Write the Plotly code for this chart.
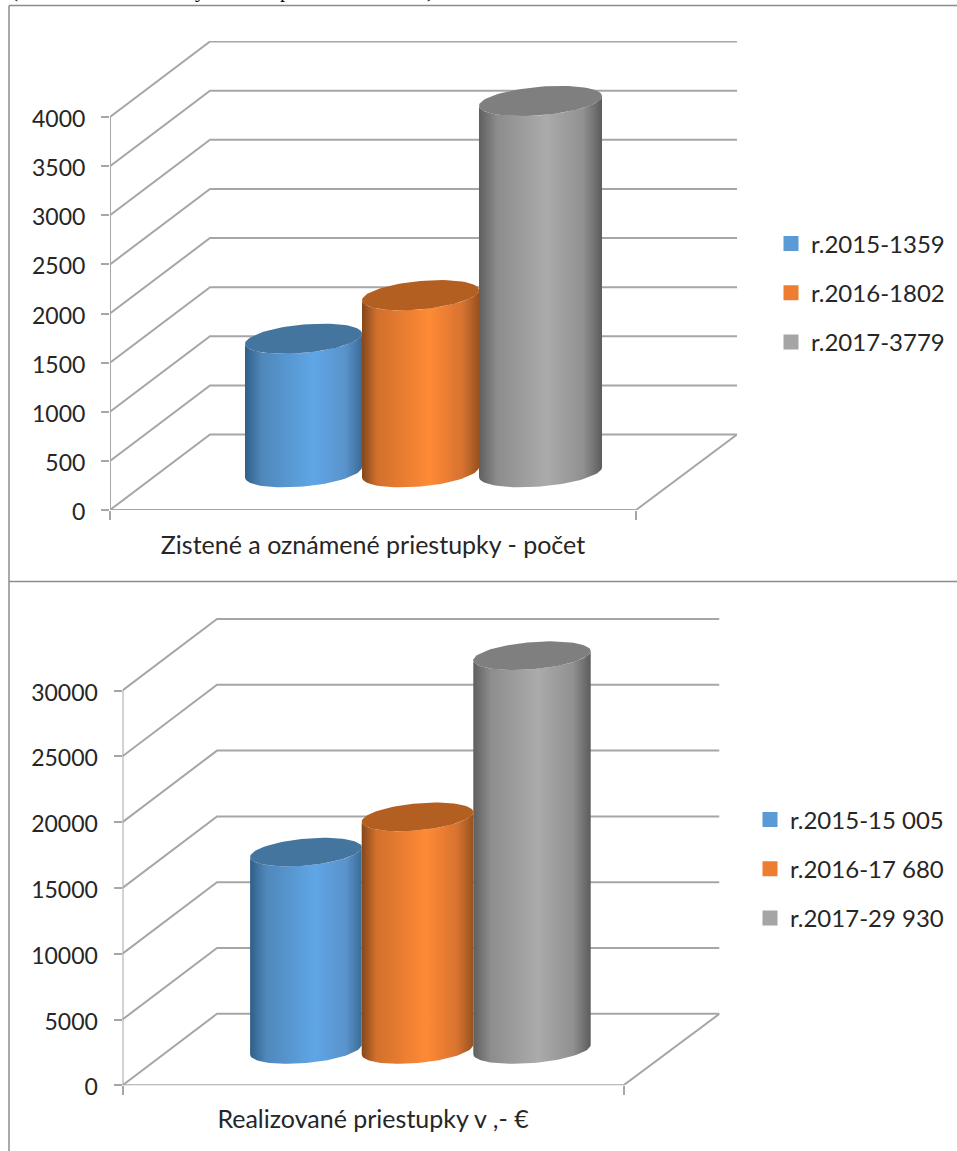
import math
import plotly.graph_objects as go

# ---- data ----
counts = [1359, 1802, 3779]
count_labels = ["r.2015-1359", "r.2016-1802", "r.2017-3779"]
count_ticks = [0, 500, 1000, 1500, 2000, 2500, 3000, 3500, 4000]
count_category = "Zistené a oznámené priestupky - počet"

fines = [15005, 17680, 29930]
fine_labels = ["r.2015-15 005", "r.2016-17 680", "r.2017-29 930"]
fine_ticks = [0, 5000, 10000, 15000, 20000, 25000, 30000]
fine_category = "Realizované priestupky v ,- €"

# ---- styling / layout constants ----
W, H = 957, 1151
GRID = "#a6a6a6"
TEXT = "#262626"
FONT = "Lato"
SWATCH = ["#5b9bd5", "#ed7d31", "#a5a5a5"]
CAP = ["#44759f", "#b45f22", "#7f7f7f"]
BODY = [
    [[0, "#2f5f88"], [0.14, "#4f87ba"], [0.58, "#5fa6e6"], [0.86, "#5a93cb"], [1, "#3a6b96"]],
    [[0, "#84471c"], [0.13, "#d2702c"], [0.58, "#ff8a35"], [0.86, "#d77230"], [1, "#96521f"]],
    [[0, "#5f5f5f"], [0.15, "#8d8d8d"], [0.55, "#ababab"], [0.85, "#909090"], [1, "#5c5c5c"]],
]


def cylinder(cx, half, v, x0, xw, dx, dep_v, dr=0.2, n=40):
    """Outline of a bar: oblique projection of a circle standing mid-depth."""
    rx = dr * dx
    w = math.sqrt(half ** 2 - rx ** 2)
    t0 = math.atan2(rx, w)

    def pt(t, val):
        px = cx + w * math.cos(t) + rx * math.sin(t)
        return (px - x0) / xw, val + dep_v * (0.5 + dr * math.sin(t))

    lower = [t0 - math.pi * i / n for i in range(n + 1)]  # right extreme -> left extreme, front side
    base = [pt(t, 0) for t in reversed(lower)]
    top_front = [pt(t, v) for t in lower]
    body = base + top_front
    cap = [pt(t0 + 2 * math.pi * i / (2 * n), v) for i in range(2 * n + 1)]
    return body, cap


def add_chart(fig, n, values, labels, ticks, category, g):
    xa, ya = ("x", "y") if n == 1 else (f"x{n}", f"y{n}")
    xw = g["x1"] - g["x0"]
    ppu = (g["y0"] - g["ytop_tick"]) / ticks[-1]
    dep_v = g["dy"] / ppu
    dep_x = g["dx"] / xw
    right = (g["xend"] - g["x0"]) / xw
    line = dict(color=GRID, width=2)
    common = dict(xaxis=xa, yaxis=ya, hoverinfo="skip", showlegend=False, cliponaxis=False)

    for t in ticks:
        fig.add_trace(go.Scatter(x=[0, dep_x, right], y=[t, t + dep_v, t + dep_v],
                                 mode="lines", line=line, **common))
    fig.add_trace(go.Scatter(x=[0, 0], y=[0, ticks[-1]], mode="lines", line=line, **common))
    fig.add_trace(go.Scatter(x=[0, 1, right], y=[0, 0, dep_v], mode="lines", line=line, **common))

    for i, v in enumerate(values):
        body, cap = cylinder(g["cx"][i], g["half"][i], v, g["x0"], xw, g["dx"], dep_v)
        fig.add_trace(go.Scatter(
            x=[p[0] for p in body], y=[p[1] for p in body], mode="lines", line=dict(width=0),
            fill="toself",
            fillgradient=dict(type="horizontal", colorscale=BODY[i]), **common))
        fig.add_trace(go.Scatter(
            x=[p[0] for p in cap], y=[p[1] for p in cap], mode="lines", line=dict(width=0),
            fill="toself", fillcolor=CAP[i], **common))

    legend_name = "legend" if n == 1 else f"legend{n}"
    for i, name in enumerate(labels):
        fig.add_trace(go.Scatter(x=[None], y=[None], mode="markers", name=name,
                                 marker=dict(symbol="square", size=15, color=SWATCH[i]),
                                 legend=legend_name, legendgroup=name,
                                 xaxis=xa, yaxis=ya, hoverinfo="skip"))

    ymax = (g["y0"] - g["yend"]) / ppu
    suffix = "" if n == 1 else str(n)
    fig.update_layout(**{
        f"xaxis{suffix}": dict(
            domain=[g["x0"] / W, g["xend"] / W], range=[0, right], anchor=ya, automargin=False,
            tickmode="array", tickvals=[0.5], ticktext=[category], ticks="", showgrid=False,
            zeroline=False, showline=False, ticklabelstandoff=g["xstand"],
            tickfont=dict(family=FONT, size=g["xfont"], color=TEXT),
            minor=dict(tickmode="array", tickvals=[0, 1], ticks="outside", ticklen=9,
                       tickcolor=GRID, tickwidth=1.5, showgrid=False),
        ),
        f"yaxis{suffix}": dict(
            domain=[1 - g["y0"] / H, 1 - g["yend"] / H], range=[0, ymax], anchor=xa, automargin=False,
            tickmode="array", tickvals=ticks, ticktext=[str(t) for t in ticks],
            ticks="outside", ticklen=8, tickcolor=GRID, tickwidth=1.5, showgrid=False,
            zeroline=False, showline=False, ticklabelstandoff=11, ticklabelshift=2,
            tickfont=dict(family=FONT, size=g["yfont"], color=TEXT),
        ),
        legend_name: dict(
            x=g["legx"] / W, xanchor="left", y=1 - g["legy"] / H, yanchor="middle",
            tracegroupgap=g["leggap"], bgcolor="rgba(0,0,0,0)",
            font=dict(family=FONT, size=g["legfont"], color=TEXT),
        ),
    })


TOP = dict(x0=110, x1=636, xend=737, y0=510, ytop_tick=117, yend=41, dx=100, dy=75.5,
           cx=[303.5, 420.5, 540.5], half=[58.5, 58.5, 61.5], xstand=18, xfont=25, yfont=23,
           legx=771, legy=293, leggap=15, legfont=24)
BOT = dict(x0=122.5, x1=623.5, xend=719.5, y0=1085.3, ytop_tick=690.5, yend=617.3, dx=94.5, dy=71.5,
           cx=[305.9, 417.5, 532], half=[55.8, 55.8, 58.7], xstand=17, xfont=25, yfont=23,
           legx=750, legy=869, leggap=15, legfont=24)

fig = go.Figure()
add_chart(fig, 1, counts, count_labels, count_ticks, count_category, TOP)
add_chart(fig, 2, fines, fine_labels, fine_ticks, fine_category, BOT)

FRAME = "#8c8c8c"
for x0, y0, x1, y1 in [(9, 5.5, 957, 5.5), (9, 5.5, 9, 1151), (9, 581.5, 957, 581.5)]:
    fig.add_shape(type="line", xref="paper", yref="paper", x0=x0 / W, x1=x1 / W,
                  y0=1 - y0 / H, y1=1 - y1 / H, line=dict(color=FRAME, width=1.5))

# Remains of the line of body text cut off by the top edge of the image
for ch, px in [("(", 15), ("y", 200), ("p", 285), (")", 430)]:
    fig.add_annotation(text=ch, xref="paper", yref="paper", x=px / W, y=1, yshift=-4,
                       xanchor="center", yanchor="bottom", showarrow=False,
                       font=dict(family="Liberation Serif", size=21, color="#000000"))

fig.update_layout(width=W, height=H, margin=dict(l=0, r=0, t=0, b=0),
                  paper_bgcolor="white", plot_bgcolor="white", showlegend=True)

fig.write_html("out.html", config={"displayModeBar": False},
               post_script="document.body.style.margin='0';document.body.style.overflow='hidden';")
